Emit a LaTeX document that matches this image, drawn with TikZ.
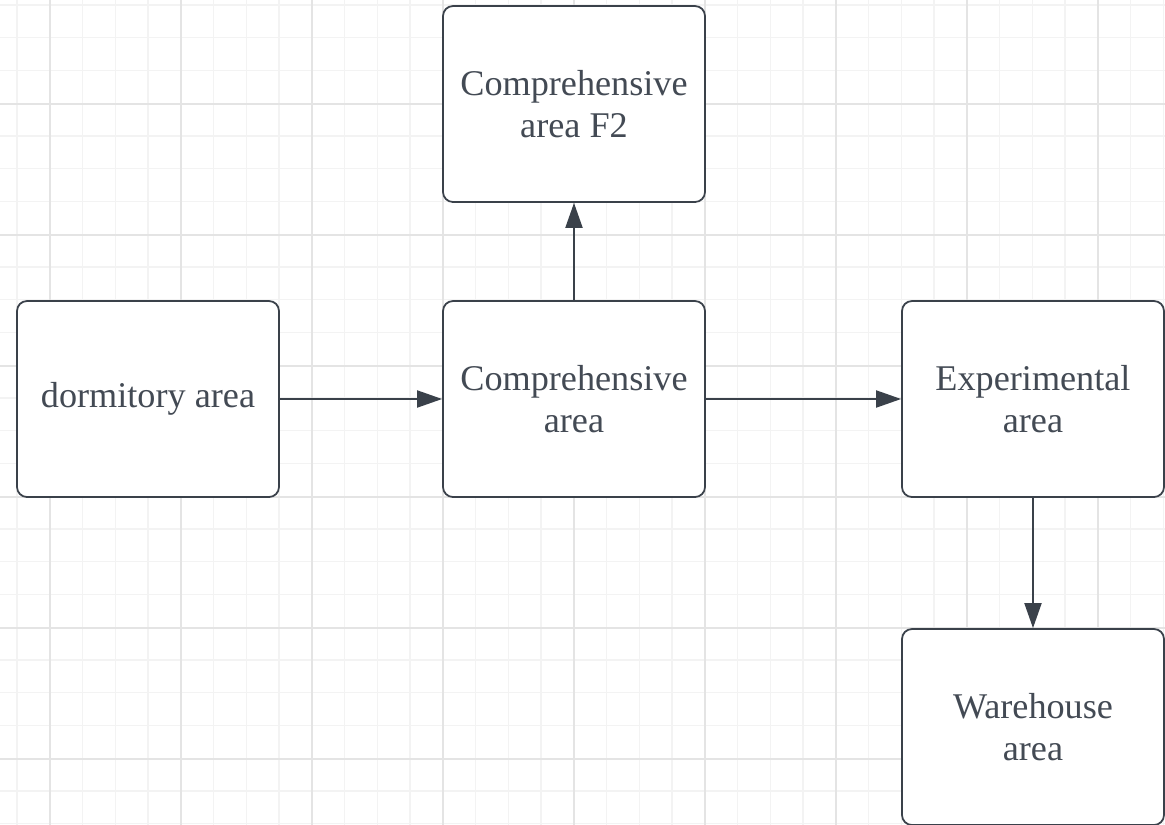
\documentclass[tikz,border=0pt]{standalone}
\usepackage{fontspec}
\setmainfont{Liberation Serif}
\usepackage{xcolor}
\usetikzlibrary{arrows.meta}
\definecolor{linegrey}{HTML}{3A414A}
\definecolor{textgrey}{HTML}{434A54}
\definecolor{gridminor}{HTML}{F3F3F3}
\definecolor{gridmajor}{HTML}{E4E4E4}
\tikzset{>={Triangle[length=2.5mm,width=1.7mm]}}
\tikzset{area/.style={draw=linegrey,line width=0.5pt,rounded corners=0.1cm,fill=white,
    minimum width=2.62cm,minimum height=1.96cm,align=center,text=textgrey,
    font=\fontsize{10.3}{12}\selectfont}}
\tikzset{flow/.style={->,draw=linegrey,line width=0.55pt}}

\begin{document}
\begin{tikzpicture}
    \useasboundingbox (0,0) rectangle (11.65,-8.25);
    \fill[white] (0,0) rectangle (11.65,-8.25);
    % grid
    \foreach \k in {0,...,35} {
        \draw[gridminor,line width=0.35pt] ({0.17+0.3275*\k},0)--({0.17+0.3275*\k},-8.25);
    }
    \foreach \k in {0,...,25} {
        \draw[gridminor,line width=0.35pt] (0,{-0.05-0.3275*\k})--(11.65,{-0.05-0.3275*\k});
    }
    \foreach \k in {0,...,8} {
        \draw[gridmajor,line width=0.35pt] ({0.50+1.31*\k},0)--({0.50+1.31*\k},-8.25);
    }
    \foreach \k in {0,...,5} {
        \draw[gridmajor,line width=0.35pt] (0,{-1.04-1.31*\k})--(11.65,{-1.04-1.31*\k});
    }

    \node[area] at (1.48,-3.99) (dorm) {dormitory area};
    \node[area] at (5.74,-3.99) (comp) {Comprehensive\\area};
    \node[area] at (5.74,-1.04) (compf2) {Comprehensive\\area F2};
    \node[area] at (10.33,-3.99) (exper) {Experimental\\area};
    \node[area] at (10.33,-7.27) (ware) {Warehouse\\area};

    \draw[flow] (dorm)--(comp);
    \draw[flow] (comp)--(compf2);
    \draw[flow] (comp)--(exper);
    \draw[flow] (exper)--(ware);
\end{tikzpicture}
\end{document}
